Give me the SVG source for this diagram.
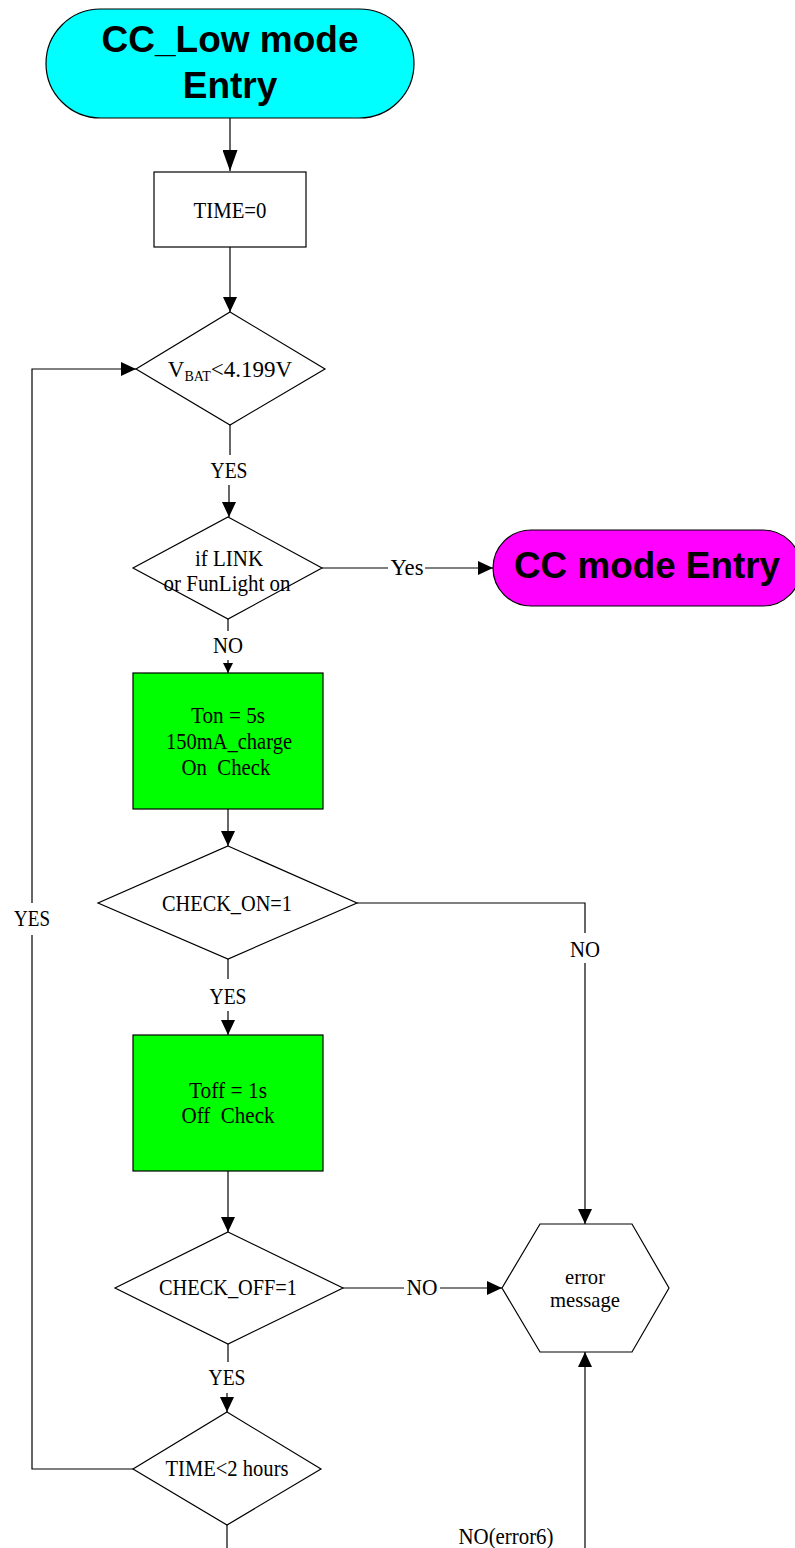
<svg xmlns="http://www.w3.org/2000/svg" width="795" height="1548" viewBox="0 0 795 1548">
<style>
.ln{fill:none;stroke:#000;stroke-width:1.2}
.nd{stroke:#000;stroke-width:1.2}
.t{font-family:"Liberation Serif","Times New Roman",serif;font-size:23px;fill:#000;text-anchor:middle;white-space:pre}
.s{font-family:"Liberation Serif","Times New Roman",serif;font-size:21px;fill:#000;text-anchor:middle}
.b{font-family:"Liberation Sans",Arial,sans-serif;font-weight:bold;fill:#000;text-anchor:middle}
</style>
<defs>
<marker id="a" viewBox="0 0 15 14" refX="15" refY="7" markerWidth="15" markerHeight="14" markerUnits="userSpaceOnUse" orient="auto"><path d="M0,0 L15,7 L0,14 z" fill="#000"/></marker>
<marker id="aL" viewBox="0 0 21 15" refX="21" refY="7.5" markerWidth="21" markerHeight="15" markerUnits="userSpaceOnUse" orient="auto"><path d="M0,0 L21,7.5 L0,15 z" fill="#000"/></marker>
<marker id="aS" viewBox="0 0 10 10" refX="10" refY="5" markerWidth="10" markerHeight="10" markerUnits="userSpaceOnUse" orient="auto"><path d="M0,0 L10,5 L0,10 z" fill="#000"/></marker>
</defs>
<g id="connectors">
<path class="ln" d="M230,118 V171" marker-end="url(#aL)"/>
<path class="ln" d="M230,247 V312" marker-end="url(#a)"/>
<path class="ln" d="M230,425 V455"/>
<path class="ln" d="M229,485 V517" marker-end="url(#a)"/>
<path class="ln" d="M322,568 H388"/>
<path class="ln" d="M425,568 H493" marker-end="url(#a)"/>
<path class="ln" d="M228,619 V631"/>
<path class="ln" d="M228,660 V673" marker-end="url(#aS)"/>
<path class="ln" d="M228,809 V846" marker-end="url(#a)"/>
<path class="ln" d="M357,903 H585 V933"/>
<path class="ln" d="M585,963 V1224" marker-end="url(#a)"/>
<path class="ln" d="M228,959 V979"/>
<path class="ln" d="M228,1011 V1035" marker-end="url(#a)"/>
<path class="ln" d="M228,1171 V1232" marker-end="url(#a)"/>
<path class="ln" d="M343,1288 H404"/>
<path class="ln" d="M440,1288 H502" marker-end="url(#a)"/>
<path class="ln" d="M228,1344 V1362"/>
<path class="ln" d="M227,1393 V1412" marker-end="url(#a)"/>
<path class="ln" d="M133,1469 H32 V935"/>
<path class="ln" d="M32,903 V369 H136" marker-end="url(#a)"/>
<path class="ln" d="M227,1525 V1548"/>
<path class="ln" d="M585,1548 V1352" marker-end="url(#a)"/>
<text class="t" x="229" y="478" textLength="37" lengthAdjust="spacingAndGlyphs">YES</text>
<text class="t" x="407" y="575" textLength="33" lengthAdjust="spacingAndGlyphs">Yes</text>
<text class="t" x="228" y="653" textLength="30" lengthAdjust="spacingAndGlyphs">NO</text>
<text class="t" x="585" y="957" textLength="30" lengthAdjust="spacingAndGlyphs">NO</text>
<text class="t" x="228" y="1004" textLength="37" lengthAdjust="spacingAndGlyphs">YES</text>
<text class="t" x="422" y="1295" textLength="31" lengthAdjust="spacingAndGlyphs">NO</text>
<text class="t" x="227" y="1385" textLength="37" lengthAdjust="spacingAndGlyphs">YES</text>
<text class="t" x="32" y="926" textLength="36" lengthAdjust="spacingAndGlyphs">YES</text>
<text class="t" x="506" y="1544" textLength="95" lengthAdjust="spacingAndGlyphs">NO(error6)</text>
</g>
<g id="start">
<rect class="nd" x="46" y="9" width="368" height="109" rx="54.5" fill="#00FFFF"/>
<text class="b" x="230" y="52" font-size="37">CC_Low mode</text>
<text class="b" x="230" y="98" font-size="37">Entry</text>
</g>
<g id="time0">
<rect class="nd" x="154" y="172" width="152" height="75" fill="#fff"/>
<text class="t" x="230" y="218" textLength="73" lengthAdjust="spacingAndGlyphs">TIME=0</text>
</g>
<g id="vbat">
<polygon class="nd" points="230,312 325,369 230,425 136,369" fill="#fff"/>
<text class="t" x="230" y="377"><tspan>V</tspan><tspan font-size="14" dy="4">BAT</tspan><tspan dy="-4">&lt;4.199V</tspan></text>
</g>
<g id="link">
<polygon class="nd" points="228,517 322,568 228,619 133,568" fill="#fff"/>
<text class="t" x="229" y="566" textLength="68" lengthAdjust="spacingAndGlyphs">if LINK</text>
<text class="t" x="227" y="591" textLength="127" lengthAdjust="spacingAndGlyphs">or FunLight on</text>
</g>
<g id="ccentry">
<rect class="nd" x="493" y="530" width="308" height="76" rx="38" fill="#FF00FF"/>
<text class="b" x="647" y="578" font-size="36.5" textLength="266" lengthAdjust="spacingAndGlyphs">CC mode Entry</text>
</g>
<g id="ton">
<rect class="nd" x="133" y="673" width="190" height="136" fill="#00FF00"/>
<text class="t" x="228" y="723" textLength="74" lengthAdjust="spacingAndGlyphs">Ton = 5s</text>
<text class="t" x="229" y="749" textLength="126" lengthAdjust="spacingAndGlyphs">150mA_charge</text>
<text class="t" x="226" y="775" textLength="89" lengthAdjust="spacingAndGlyphs">On  Check</text>
</g>
<g id="checkon">
<polygon class="nd" points="228,846 357,903 228,959 98,903" fill="#fff"/>
<text class="t" x="227" y="911" textLength="130" lengthAdjust="spacingAndGlyphs">CHECK_ON=1</text>
</g>
<g id="toff">
<rect class="nd" x="133" y="1035" width="190" height="136" fill="#00FF00"/>
<text class="t" x="228" y="1098" textLength="78" lengthAdjust="spacingAndGlyphs">Toff = 1s</text>
<text class="t" x="228" y="1123" textLength="93" lengthAdjust="spacingAndGlyphs">Off  Check</text>
</g>
<g id="checkoff">
<polygon class="nd" points="228,1232 343,1288 228,1344 115,1288" fill="#fff"/>
<text class="t" x="228" y="1295" textLength="138" lengthAdjust="spacingAndGlyphs">CHECK_OFF=1</text>
</g>
<g id="error">
<polygon class="nd" points="502,1288 540,1224 632,1224 669,1288 632,1352 540,1352" fill="#fff"/>
<text class="s" x="585" y="1284" textLength="40" lengthAdjust="spacingAndGlyphs">error</text>
<text class="s" x="585" y="1307" textLength="70" lengthAdjust="spacingAndGlyphs">message</text>
</g>
<g id="time2h">
<polygon class="nd" points="227,1412 321,1469 227,1525 133,1469" fill="#fff"/>
<text class="t" x="227" y="1476" textLength="123" lengthAdjust="spacingAndGlyphs">TIME&lt;2 hours</text>
</g>
</svg>
